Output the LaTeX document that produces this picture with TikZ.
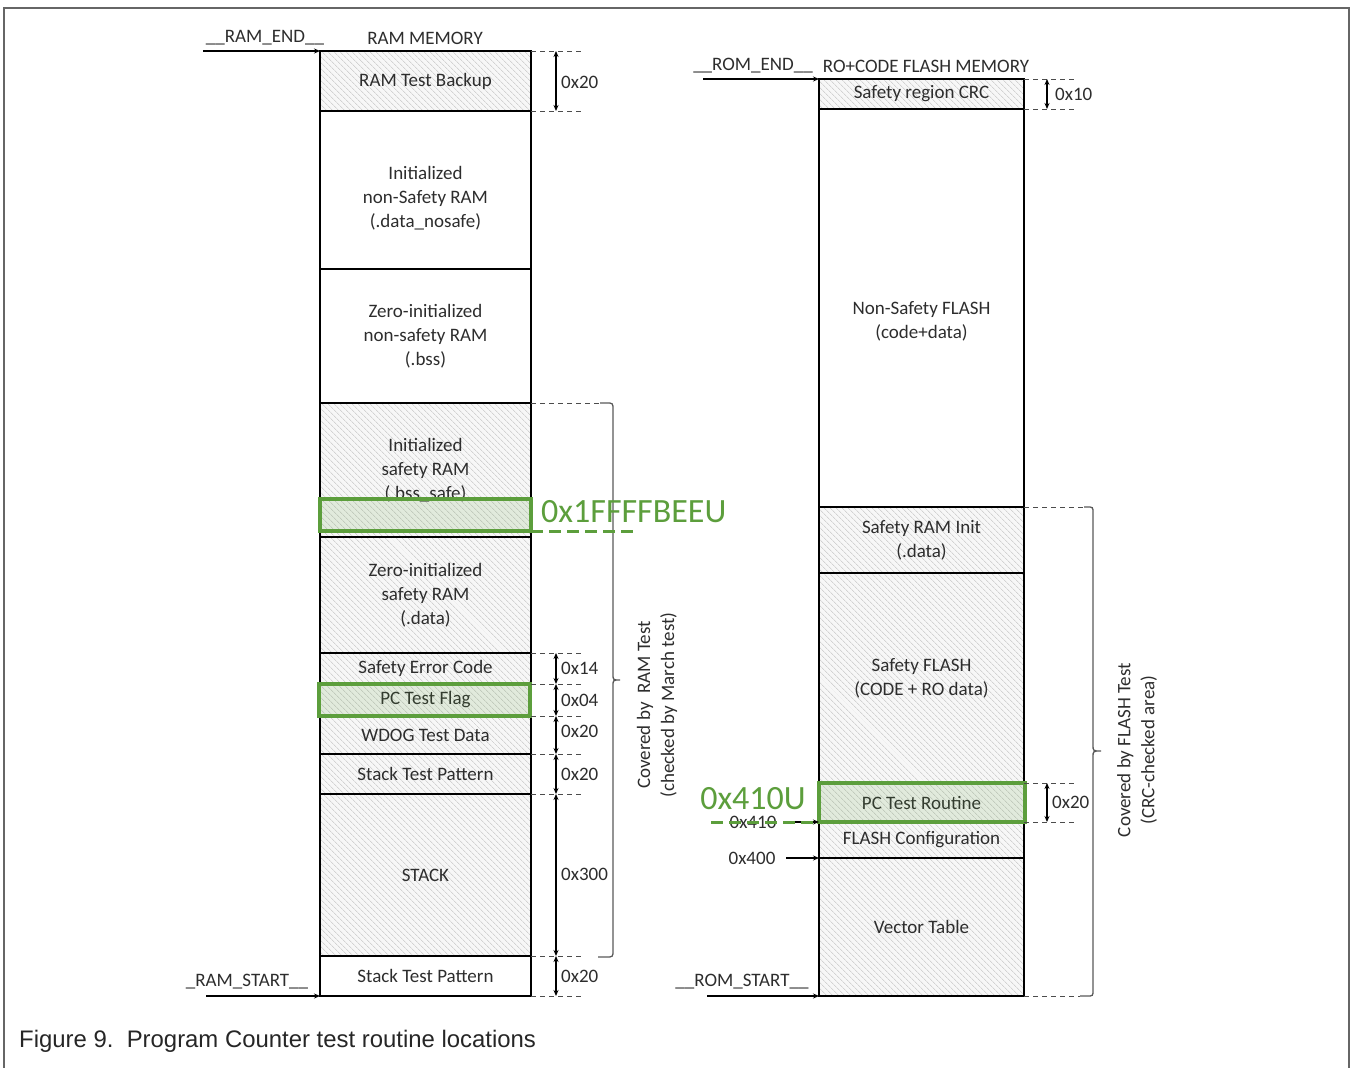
\documentclass[tikz,border=0pt]{standalone}
\usepackage{fontspec}
\setmainfont{Carlito}
\newfontfamily\capfont{Liberation Sans}
\usetikzlibrary{arrows.meta,patterns.meta,calc}
\definecolor{pcgreen}{RGB}{92,158,60}
\definecolor{ink}{RGB}{45,45,45}
\begin{document}
\begin{tikzpicture}[x=1pt,y=-1pt,
  lbl/.style={font=\fontsize{19}{24}\selectfont, text=ink, align=center, inner sep=0pt},
  blk/.style={lbl, draw=black, line width=2.8pt, inner sep=0pt, outer sep=0pt, anchor=north west},
  ramblk/.style={blk, minimum width=211pt},
  romblk/.style={blk, minimum width=205pt},
  hatched/.style={preaction={fill=black!3},
    pattern={Lines[angle=-45,distance=4pt,line width=0.5pt]}, pattern color=black!25},
  pcbox/.style={draw=pcgreen, line width=3.6pt, fill=pcgreen, fill opacity=0.14,
    inner sep=0pt, outer sep=0pt, anchor=north west},
  dim/.style={line width=1.6pt, {Stealth[length=6pt,width=5pt]}-{Stealth[length=6pt,width=5pt]}},
  ext/.style={line width=0.9pt, black!70, dash pattern=on 5pt off 4pt},
  ptr/.style={line width=1.7pt, -{Stealth[length=6pt,width=5pt]}},
  brc/.style={line width=1.3pt, black!65},
  gdash/.style={line width=3pt, pcgreen, dash pattern=on 12pt off 6pt},
  glbl/.style={font=\fontsize{34}{40}\selectfont, text=pcgreen, inner sep=0pt},
  dimlbl/.style={lbl, anchor=west}]
\useasboundingbox (0,0) rectangle (1352,1068);

% page frame
\draw[black!60, line width=2.5pt] (4,1068) -- (4,8) -- (1349,8) -- (1349,1068);

% ---------------- RAM memory map ----------------
\node[lbl] (ramtitle) at (425,38) {RAM MEMORY};
\node[lbl] (ramend) at (265,38) {\_\_RAM\_END\_\_};
\node[lbl] (ramstart) at (247,982) {\_RAM\_START\_\_};

\node[ramblk, hatched, minimum height=60pt] (r1) at (320,51) {RAM Test Backup};
\node[ramblk, minimum height=158pt] (r2) at (320,111) {};
\node[lbl] (r2t) at ($(r2.center)+(0,8)$) {Initialized\\non-Safety RAM\\(.data\_nosafe)};
\node[ramblk, minimum height=134pt] (r3) at (320,269) {Zero-initialized\\non-safety RAM\\(.bss)};
\node[ramblk, hatched, minimum height=134pt] (r4) at (320,403) {Initialized\\safety RAM\\(.bss\_safe)};
\node[ramblk, hatched, minimum height=116pt] (r5) at (320,537) {Zero-initialized\\safety RAM\\(.data)};
\node[ramblk, hatched, minimum height=31pt] (r6) at (320,653) {Safety Error Code};
\node[ramblk, hatched, minimum height=32pt] (r7) at (320,684) {PC Test Flag};
\node[ramblk, hatched, minimum height=38pt] (r8) at (320,716) {WDOG Test Data};
\node[ramblk, hatched, minimum height=40pt] (r9) at (320,754) {Stack Test Pattern};
\node[ramblk, hatched, minimum height=162pt] (r10) at (320,794) {STACK};
\node[ramblk, minimum height=40pt] (r11) at (320,956) {Stack Test Pattern};

% highlighted program counter locations in RAM
\node[pcbox, minimum width=211pt, minimum height=32pt] (g1) at (320,499) {};
\node[pcbox, minimum width=211pt, minimum height=32pt] (g2) at (319,684) {};

% start / end pointers
\coordinate (ramendtail) at ($(r1.north west)+(-117,0)$);
\coordinate (ramstarttail) at ($(r11.south west)+(-114,0)$);
\draw[ptr] (ramendtail) -- (r1.north west);
\draw[ptr] (ramstarttail) -- (r11.south west);

% size dimensions
\coordinate (rdx) at (556,0);
\foreach \b in {r1,r6,r7,r8,r9,r10,r11}{
  \draw[ext] (\b.north east) -- ++(51,0);
  \draw[ext] (\b.south east) -- ++(51,0);
  \draw[dim] (\b.north -| rdx) -- (\b.south -| rdx);
}
\node[dimlbl] (d1) at (561,82) {0x20};
\node[dimlbl] (d6) at (561,668) {0x14};
\node[dimlbl] (d7) at (561,700) {0x04};
\node[dimlbl] (d8) at (561,731) {0x20};
\node[dimlbl] (d9) at (561,774) {0x20};
\node[dimlbl] (d10) at (561,874) {0x300};
\node[dimlbl] (d11) at (561,976) {0x20};

% RAM test coverage brace
\draw[ext] (r4.north east) -- (600,403);
\draw[brc] (600,403) -- (606,403) .. controls (613,403) .. (613,410) -- (613,674)
  .. controls (613,680) .. (620,680) .. controls (613,680) .. (613,686) -- (613,950)
  .. controls (613,957) .. (606,957) -- (598,957);
\node[lbl, rotate=90] (ramcov) at (657,705) {Covered by\ \ RAM Test\\(checked by March test)};

% PC test address in RAM
\node[glbl, anchor=west] (gaddr1) at (541,512) {0x1FFFFBEEU};
\coordinate (gend1) at ($(g1.south east)+(105,0)$);
\draw[gdash] (g1.south east) -- (gend1);

% ---------------- FLASH memory map ----------------
\node[lbl] (romtitle) at (926,66) {RO+CODE FLASH MEMORY};
\node[lbl] (romend) at (753,66) {\_\_ROM\_END\_\_};
\node[lbl] (romstart) at (742,982) {\_\_ROM\_START\_\_};

\node[romblk, hatched, minimum height=30pt] (f1) at (819,79) {Safety region CRC};
\node[romblk, minimum height=398pt] (f2) at (819,109) {};
\node[lbl] (f2t) at ($(f2.center)+(0,13)$) {Non-Safety FLASH\\(code+data)};
\node[romblk, hatched, minimum height=66pt] (f3) at (819,507) {Safety RAM Init\\(.data)};
\node[romblk, hatched, minimum height=210pt] (f4) at (819,573) {Safety FLASH\\(CODE + RO data)};
\node[romblk, hatched, minimum height=39pt] (f5) at (819,783) {PC Test Routine};
\node[romblk, hatched, minimum height=36pt] (f6) at (819,822) {FLASH Configuration};
\node[romblk, hatched, minimum height=138pt] (f7) at (819,858) {Vector Table};

\node[pcbox, minimum width=206pt, minimum height=39pt] (g3) at (819,783) {};

\coordinate (romendtail) at ($(f1.north west)+(-116,0)$);
\coordinate (romstarttail) at ($(f7.south west)+(-112,0)$);
\draw[ptr] (romendtail) -- (f1.north west);
\draw[ptr] (romstarttail) -- (f7.south west);

% fixed addresses
\node[lbl] (a410) at (753,822) {0x410};
\node[lbl] (a400) at (752,858) {0x400};
\coordinate (a410tail) at ($(f6.north west)+(-33,0)$);
\coordinate (a400tail) at ($(f7.north west)+(-33,0)$);
\draw[ptr, line width=1.4pt] (a410tail) -- (f6.north west);
\draw[ptr, line width=1.4pt] (a400tail) -- (f7.north west);

% size dimensions
\coordinate (fdx) at (1047,0);
\foreach \b in {f1,f5}{
  \draw[ext] (\b.north east) -- ++(51,0);
  \draw[ext] (\b.south east) -- ++(51,0);
  \draw[dim] (\b.north -| fdx) -- (\b.south -| fdx);
}
\node[dimlbl] (e1) at (1055,94) {0x10};
\node[dimlbl] (e5) at (1052,802) {0x20};

% FLASH test coverage brace
\draw[ext] (f3.north east) -- (1084,507);
\draw[ext] (f7.south east) -- (1080,996);
\draw[brc] (1084,507) -- (1087,507) .. controls (1093,507) .. (1093,513) -- (1093,745)
  .. controls (1093,751) .. (1101,751) .. controls (1093,751) .. (1093,757) -- (1093,990)
  .. controls (1093,996) .. (1087,996) -- (1080,996);
\node[lbl, rotate=90] (flashcov) at (1137,750) {Covered by FLASH Test\\(CRC-checked area)};

% PC test address in FLASH
\node[glbl] (gaddr2) at (753,799) {0x410U};
\coordinate (gstart3) at ($(g3.south west)+(-108,0)$);
\draw[gdash] (gstart3) -- (g3.south west);

% caption
\node[font=\capfont\fontsize{23.9}{28}\selectfont, text=black!85, anchor=west, inner sep=0pt] (caption)
  at (19,1041) {Figure 9.\ \ Program Counter test routine locations};
\end{tikzpicture}
\end{document}
